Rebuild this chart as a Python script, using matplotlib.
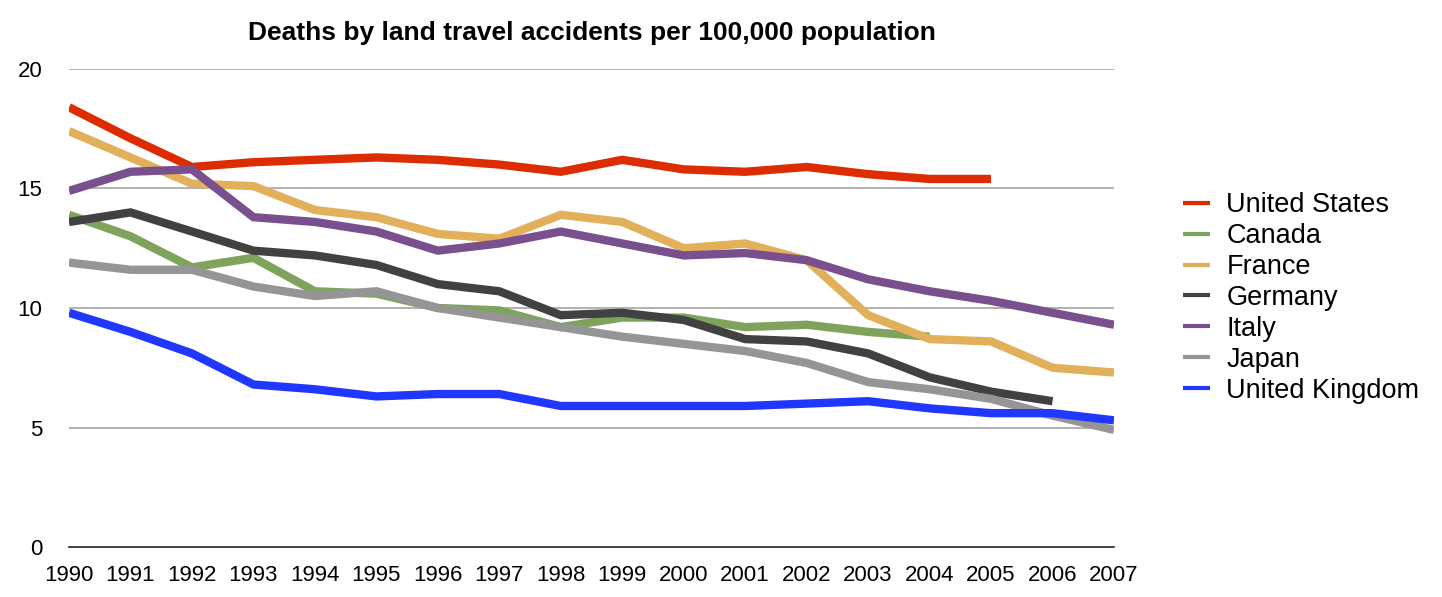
import matplotlib.pyplot as plt

plt.rcParams['font.family'] = ['Liberation Sans', 'DejaVu Sans']

years = list(range(1990, 2008))

united_states = [18.4, 17.1, 15.9, 16.1, 16.2, 16.3, 16.2, 16.0, 15.7, 16.2,
                 15.8, 15.7, 15.9, 15.6, 15.4, 15.4]
canada = [13.9, 13.0, 11.7, 12.1, 10.7, 10.6, 10.0, 9.9, 9.2, 9.6,
          9.6, 9.2, 9.3, 9.0, 8.8]
france = [17.4, 16.3, 15.2, 15.1, 14.1, 13.8, 13.1, 12.9, 13.9, 13.6,
          12.5, 12.7, 12.0, 9.7, 8.7, 8.6, 7.5, 7.3]
germany = [13.6, 14.0, 13.2, 12.4, 12.2, 11.8, 11.0, 10.7, 9.7, 9.8,
           9.5, 8.7, 8.6, 8.1, 7.1, 6.5, 6.1]
italy = [14.9, 15.7, 15.8, 13.8, 13.6, 13.2, 12.4, 12.7, 13.2, 12.7,
         12.2, 12.3, 12.0, 11.2, 10.7, 10.3, 9.8, 9.3]
japan = [11.9, 11.6, 11.6, 10.9, 10.5, 10.7, 10.0, 9.6, 9.2, 8.8,
         8.5, 8.2, 7.7, 6.9, 6.6, 6.2, 5.5, 4.9]
united_kingdom = [9.8, 9.0, 8.1, 6.8, 6.6, 6.3, 6.4, 6.4, 5.9, 5.9,
                  5.9, 5.9, 6.0, 6.1, 5.8, 5.6, 5.6, 5.3]

series = [
    ('United States', united_states, '#dc2c00'),
    ('Canada', canada, '#7fa35c'),
    ('France', france, '#e2b05a'),
    ('Germany', germany, '#414141'),
    ('Italy', italy, '#7a4f8e'),
    ('Japan', japan, '#959595'),
    ('United Kingdom', united_kingdom, '#1f37ff'),
]

fig = plt.figure(figsize=(14.42, 5.97), dpi=100)
ax = fig.add_axes([69 / 1442, 50 / 597, 1045 / 1442, 478 / 597])

for name, vals, color in series:
    ax.plot(years[:len(vals)], vals, color=color, lw=6, label=name,
            solid_joinstyle='miter', solid_capstyle='butt')

ax.set_xlim(1990, 2007)
ax.set_ylim(0, 20)
ax.set_xticks(years)
ax.set_yticks([0, 5, 10, 15, 20])
ax.tick_params(axis='both', length=0, labelsize=16)
ax.tick_params(axis='y', pad=19)
ax.tick_params(axis='x', pad=13)
for y in [5, 10, 15, 20]:
    ax.axhline(y, color='#ababab', lw=1.3, zorder=0)
for s in ['top', 'right', 'left']:
    ax.spines[s].set_visible(False)
ax.spines['bottom'].set_linewidth(1.2)
ax.spines['bottom'].set_color('#222222')

ax.set_title('Deaths by land travel accidents per 100,000 population',
             fontsize=19, fontweight='bold', pad=21)

leg = ax.legend(loc='center left', bbox_to_anchor=(1.066, 0.521), frameon=False,
                fontsize=19.5, handlelength=1.0, handletextpad=0.6,
                labelspacing=0.18, borderpad=0, borderaxespad=0)
for line in leg.get_lines():
    line.set_linewidth(3)

fig.savefig('out.png', dpi=100)
